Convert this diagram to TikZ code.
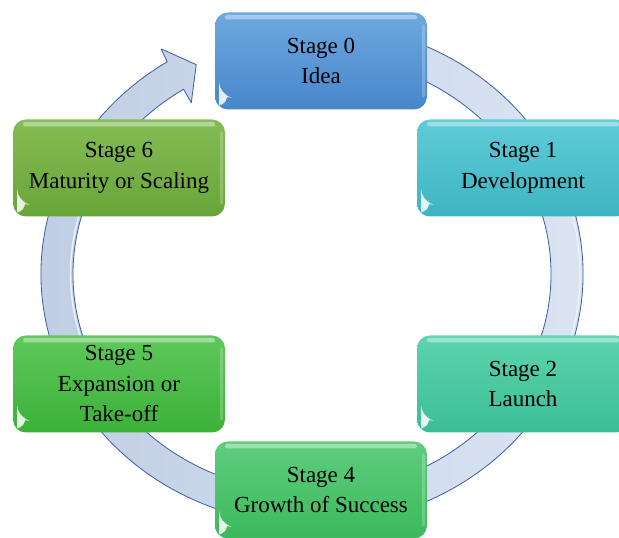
\documentclass[tikz,border=0pt]{standalone}
\usepackage{fontspec}
\setmainfont{Liberation Serif}
\definecolor{ringL}{HTML}{BFCDE3}
\definecolor{ringR}{HTML}{DCE5F3}
\definecolor{ringEdge}{HTML}{3A5CA6}
\definecolor{aTop}{HTML}{6EA8DF}\definecolor{aBot}{HTML}{4886CB}
\definecolor{bTop}{HTML}{5FCCD8}\definecolor{bBot}{HTML}{3EB4C2}
\definecolor{cTop}{HTML}{5CD4AE}\definecolor{cBot}{HTML}{3BBE95}
\definecolor{dTop}{HTML}{5FCD7E}\definecolor{dBot}{HTML}{3CB95C}
\definecolor{eTop}{HTML}{5FC85C}\definecolor{eBot}{HTML}{3BB137}
\definecolor{fTop}{HTML}{84BC55}\definecolor{fBot}{HTML}{68A538}
\begin{document}
\begin{tikzpicture}[x=1pt,y=1pt,
  stagebox/.style={rounded corners=13pt, minimum width=212pt, minimum height=97pt,
    inner sep=0pt, align=center, font=\fontsize{23}{30.5}\selectfont, text=black,
    path picture={
      % glossy band under the top edge
      \fill[white,opacity=0.4,rounded corners=2pt]
        ([xshift=10pt,yshift=-2.5pt]path picture bounding box.north west) rectangle
        ([xshift=-10pt,yshift=-7pt]path picture bounding box.north east);
      % faint light strip along the right edge
      \fill[white,opacity=0.22,rounded corners=2pt]
        ([xshift=-5pt,yshift=-12pt]path picture bounding box.north east) rectangle
        ([xshift=-2pt,yshift=12pt]path picture bounding box.south east);
      % reflection in the lower left corner
      \fill[white,opacity=0.85]
        ([xshift=4pt,yshift=15pt]path picture bounding box.south west)
        to[bend right=45] ([xshift=15pt,yshift=4pt]path picture bounding box.south west)
        to[bend right=30] cycle;
    }},
  ringband/.style={left color=ringL, right color=ringR, draw=ringEdge, line width=0.8pt, line join=round},
]
\useasboundingbox (0,0) rectangle (619,538);
\clip (0,0) rectangle (619,538);

% circular arrow running clockwise round the stages
\coordinate (c) at (312,264);
\begin{scope}[shift={(c)}]
  \path[ringband] (70:271pt and 251pt)
    arc[start angle=70, end angle=-237.7, x radius=271pt, y radius=251pt]
    -- (-238.3:287pt and 264.6pt)
    -- (-243:255pt and 235pt)
    -- (-237:221.6pt and 204.2pt)
    -- (-237.5:239pt and 219pt)
    arc[start angle=-237.5, end angle=70, x radius=239pt, y radius=219pt]
    -- cycle;
  % soft highlights on the band
  \draw[white,opacity=0.75,line width=1.4pt]
    (215:241.5pt and 221.5pt) arc[start angle=215, end angle=150, x radius=241.5pt, y radius=221.5pt];
  \draw[white,opacity=0.6,line width=1.2pt]
    (25:268pt and 248pt) arc[start angle=25, end angle=-30, x radius=268pt, y radius=248pt];
\end{scope}

% stages
\node[stagebox, top color=aTop, bottom color=aBot] (s0) at (321,477) {Stage 0\\Idea};
\node[stagebox, top color=bTop, bottom color=bBot] (s1) at (523,370) {Stage 1\\Development};
\node[stagebox, top color=cTop, bottom color=cBot] (s2) at (523,154) {Stage 2\\Launch};
\node[stagebox, top color=dTop, bottom color=dBot] (s4) at (321,48) {Stage 4\\Growth of Success};
\node[stagebox, top color=eTop, bottom color=eBot] (s5) at (119,154) {Stage 5\\Expansion or\\Take-off};
\node[stagebox, top color=fTop, bottom color=fBot] (s6) at (119,370) {Stage 6\\Maturity or Scaling};
\end{tikzpicture}
\end{document}
